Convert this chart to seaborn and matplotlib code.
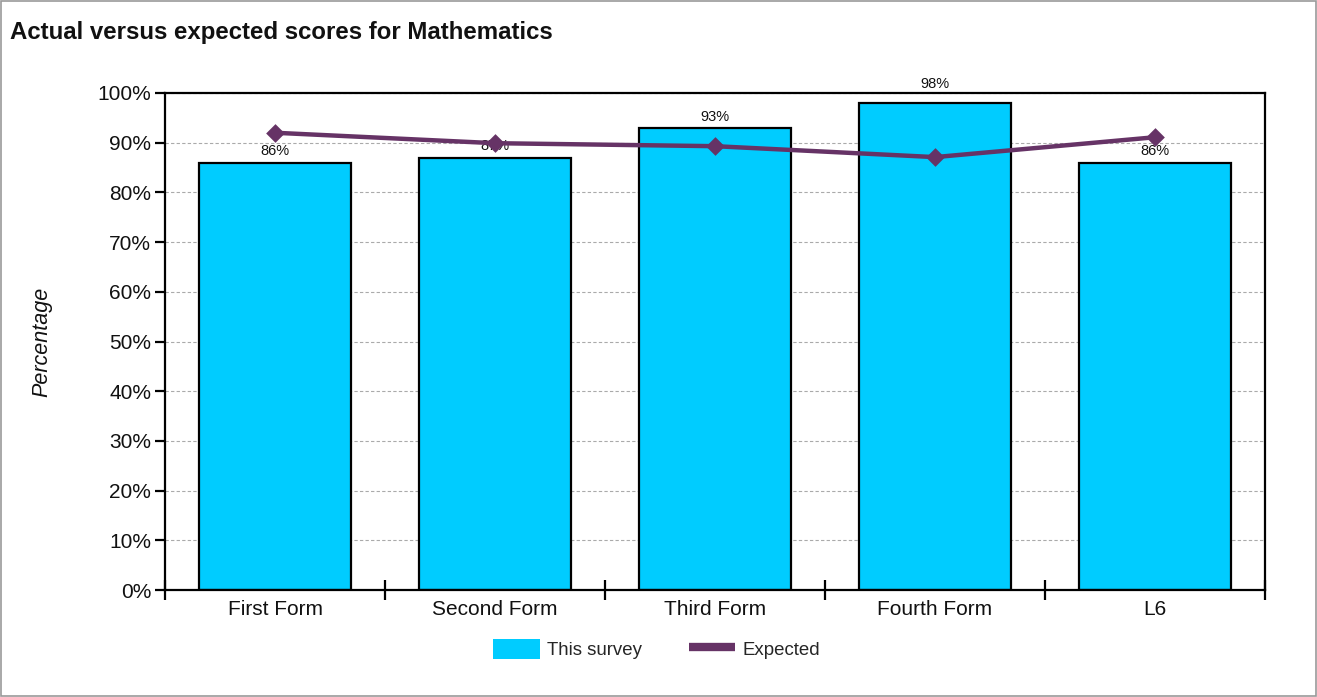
import matplotlib
matplotlib.use("Agg")
import matplotlib.pyplot as plt
from matplotlib.patches import Patch, Rectangle
from matplotlib.lines import Line2D
from matplotlib.ticker import FixedLocator, PercentFormatter
import seaborn as sns
import pandas as pd

# Scores per year group
categories = ["First Form", "Second Form", "Third Form", "Fourth Form", "L6"]
survey_scores = [86, 87, 93, 98, 86]
expected_scores = [92.0, 89.9, 89.3, 87.1, 91.1]

bar_color = "#00CCFF"
line_color = "#663366"

sns.set_theme(style="white")
plt.rcParams["font.family"] = ["Liberation Sans", "DejaVu Sans"]

df = pd.DataFrame({"form": categories, "survey": survey_scores, "expected": expected_scores})

fig = plt.figure(figsize=(13.17, 6.97), dpi=100)
ax = fig.add_axes([165 / 1317, 1 - 590 / 697, 1100 / 1317, 497 / 697])

sns.barplot(data=df, x="form", y="survey", color=bar_color, saturation=1,
            width=0.69, edgecolor="black", linewidth=1.6, ax=ax, zorder=2)

# value labels; labels of bars close to the top are lifted clear of the frame
bars = ax.containers[0]
near_top = [v >= 97 for v in survey_scores]
ax.bar_label(bars, labels=["" if t else f"{v}%" for v, t in zip(survey_scores, near_top)],
             padding=3, fontsize=10.5, color="#111111")
ax.bar_label(bars, labels=[f"{v}%" if t else "" for v, t in zip(survey_scores, near_top)],
             padding=8.5, fontsize=10.5, color="#111111")

sns.pointplot(data=df, x="form", y="expected", color=line_color, markers="D",
              markersize=7, linewidth=3.2, ax=ax, zorder=3)

ax.set_xlim(-0.5, len(categories) - 0.5)
ax.set_ylim(0, 100)
ax.yaxis.set_major_locator(FixedLocator(range(0, 101, 10)))
ax.yaxis.set_major_formatter(PercentFormatter(decimals=0))
ax.grid(axis="y", color="#aaaaaa", linestyle=(0, (3, 2)), linewidth=0.8, zorder=0)
ax.set_axisbelow(True)

# category separators as ticks crossing the baseline
ax.xaxis.set_minor_locator(FixedLocator([i - 0.5 for i in range(len(categories) + 1)]))
ax.tick_params(axis="x", which="major", length=0, labelsize=15, pad=7, colors="#111111")
ax.tick_params(axis="x", which="minor", length=14, width=1.6, direction="inout",
               bottom=True, color="black")
ax.tick_params(axis="y", which="major", length=7, width=1.6, direction="out",
               left=True, labelsize=15, pad=3)
ax.tick_params(axis="y", colors="black", labelcolor="#111111")

for side in ["left", "bottom", "top", "right"]:
    ax.spines[side].set_visible(True)
    ax.spines[side].set_color("black")
    ax.spines[side].set_linewidth(1.6)

ax.set_xlabel("")
ax.set_ylabel("Percentage", fontsize=15.5, fontstyle="italic", color="#111111")
ax.yaxis.set_label_coords(-0.1025, 0.5)

fig.text(10 / 1317, 1 - 33 / 697, "Actual versus expected scores for Mathematics",
         fontsize=17.3, fontweight="bold", va="center", ha="left", color="#111111")

handles = [Patch(facecolor=bar_color, edgecolor="none"),
           Line2D([0], [0], color=line_color, linewidth=6, solid_capstyle="butt")]
fig.legend(handles, ["This survey", "Expected"], loc="center",
           bbox_to_anchor=(657 / 1317, 1 - 649 / 697), ncol=2, frameon=False,
           fontsize=13.4, handlelength=2.5, handleheight=1.3, columnspacing=2.5,
           handletextpad=0.4)

fig.patches.append(Rectangle((0.0008, 0.001), 0.9984, 0.997, transform=fig.transFigure,
                             fill=False, edgecolor="#999999", linewidth=1.2))

fig.savefig("out.png", dpi=100)
